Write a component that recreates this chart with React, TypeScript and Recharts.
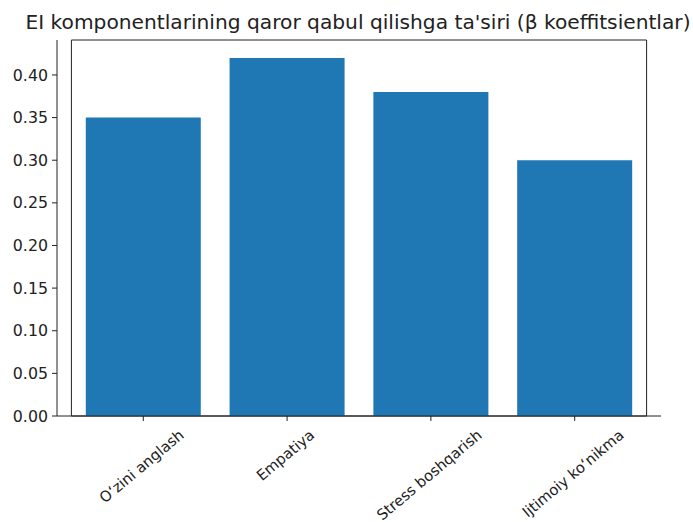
import React from "react";
import { BarChart, Bar, XAxis, YAxis, ReferenceArea } from "recharts";

const categories = ["Oʻzini anglash", "Empatiya", "Stress boshqarish", "Ijtimoiy koʻnikma"];
const betaValues = [0.35, 0.42, 0.38, 0.3];
const yTicks = [0, 0.05, 0.1, 0.15, 0.2, 0.25, 0.3, 0.35, 0.4];
const title = "EI komponentlarining qaror qabul qilishga ta'siri (β koeffitsientlar)";

const data = categories.map((name, i) => ({ name, value: betaValues[i] }));

const FONT = "'DejaVu Sans', sans-serif";
const TICK_FS = 15.8;
const XTICK_FS = 14.8;
const ANGLE = 40;
const Y_MAX = 0.441;

let ctx: CanvasRenderingContext2D | null = null;
function textWidth(s: string, size: number) {
  if (!ctx) ctx = document.createElement("canvas").getContext("2d");
  if (!ctx) return s.length * size * 0.55;
  ctx.font = `${size}px DejaVu Sans`;
  return ctx.measureText(s).width;
}

// rotated label, bbox centred on the tick
const RotatedTick = (props: any) => {
  const { x, y, payload } = props;
  const w = textWidth(payload.value, XTICK_FS);
  const h = XTICK_FS * 0.76;
  const C = Math.cos((ANGLE * Math.PI) / 180);
  const S = Math.sin((ANGLE * Math.PI) / 180);
  const ax = x + (C * w + S * h) / 2 - 2;
  const ay = y + C * h;
  return (
    <text
      x={ax}
      y={ay}
      textAnchor="end"
      fontSize={XTICK_FS}
      fontFamily={FONT}
      fill="#222"
      transform={`rotate(-${ANGLE} ${ax} ${ay})`}
    >
      {payload.value}
    </text>
  );
};

export default function App() {
  return (
    <div style={{ position: "absolute", left: 0, top: 0, width: 693, height: 522, background: "#fff" }}>
      <div
        style={{
          position: "absolute",
          left: 0,
          top: 10,
          width: 716,
          textAlign: "center",
          fontFamily: FONT,
          fontSize: 20.2,
          color: "#222",
          whiteSpace: "nowrap",
        }}
      >
        {title}
      </div>
      <BarChart
        width={693}
        height={522}
        data={data}
        margin={{ top: 40, right: 32, bottom: 0, left: 0 }}
        barCategoryGap="10%"
      >
        <XAxis
          dataKey="name"
          height={106}
          padding={{ left: 14.4, right: 14.4 }}
          axisLine={{ stroke: "#222" }}
          tickLine={{ stroke: "#222" }}
          tickSize={5}
          tickMargin={7}
          interval={0}
          tick={<RotatedTick />}
        />
        <YAxis
          width={57}
          domain={[0, Y_MAX]}
          ticks={yTicks}
          allowDataOverflow
          axisLine={{ stroke: "#222" }}
          tickLine={{ stroke: "#222" }}
          tickSize={5}
          tickMargin={4}
          tickFormatter={(v: number) => v.toFixed(2)}
          tick={{ fontSize: TICK_FS, fontFamily: FONT, fill: "#222" }}
        />
        <Bar dataKey="value" fill="#1f77b4" isAnimationActive={false} />
        {/* axes frame (top and right spines) */}
        <ReferenceArea y1={0} y2={Y_MAX} fill="none" stroke="#222" strokeWidth={1} />
      </BarChart>
    </div>
  );
}
